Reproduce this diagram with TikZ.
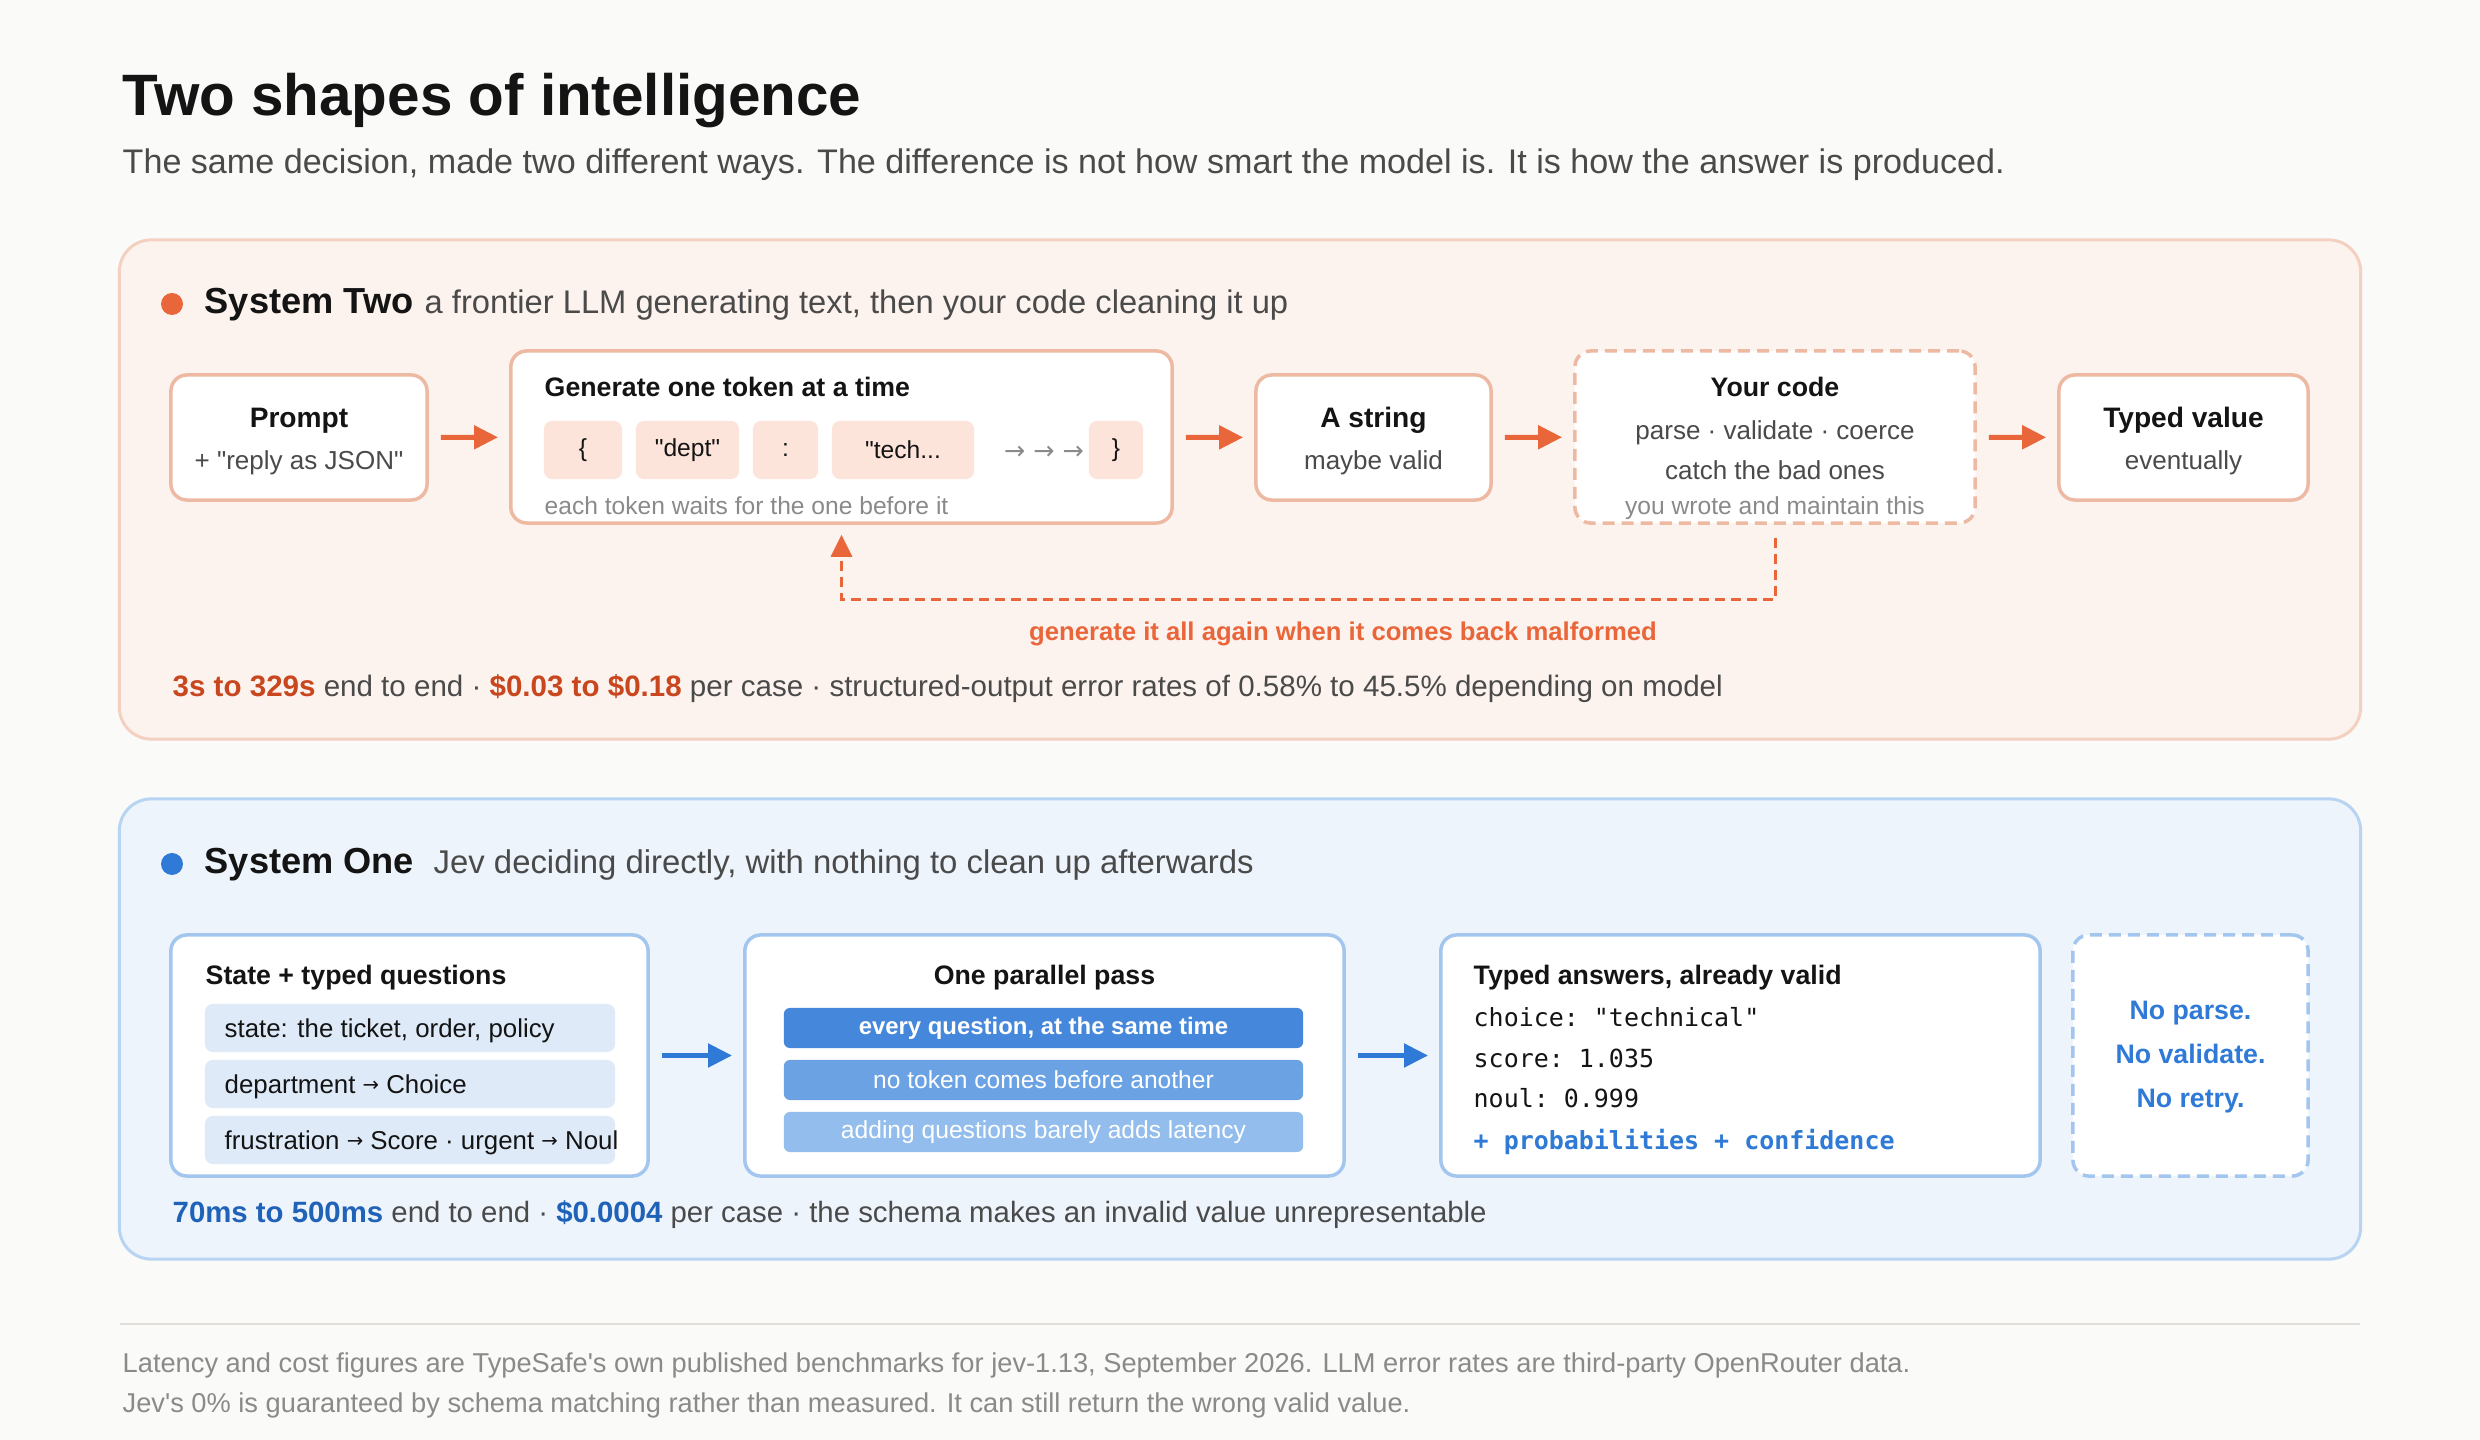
\documentclass[tikz,border=0pt]{standalone}
\usepackage{fontspec}
\setmainfont{Liberation Sans}[Ligatures=TeXOff]
\setmonofont{DejaVu Sans Mono}
\newfontfamily\symfont{DejaVu Sans}
\usetikzlibrary{arrows.meta}
\definecolor{bgc}{HTML}{FAFAF8}
\definecolor{ink}{HTML}{141414}
\definecolor{subc}{HTML}{4A4A4A}
\definecolor{mutedc}{HTML}{8A8A8A}
\definecolor{orfill}{HTML}{FDF3EE}
\definecolor{orline}{HTML}{F4D0C1}
\definecolor{orbox}{HTML}{EDB9A3}
\definecolor{oracc}{HTML}{E9663A}
\definecolor{ordark}{HTML}{C8471E}
\definecolor{chipor}{HTML}{FCE4DA}
\definecolor{blfill}{HTML}{EEF4FC}
\definecolor{blline}{HTML}{B8D4F3}
\definecolor{blbox}{HTML}{A3C6EF}
\definecolor{blacc}{HTML}{2F7AD6}
\definecolor{bldark}{HTML}{1F62B8}
\definecolor{chipbl}{HTML}{DEEAF8}
\definecolor{barA}{HTML}{4587DA}
\definecolor{barB}{HTML}{6BA2E3}
\definecolor{barC}{HTML}{93BDEC}
\definecolor{sepc}{HTML}{E2DEDA}
\newcommand\fz[1]{\fontsize{#1}{#1}\selectfont}
\newcommand\rarr{{\symfont\fz{5.6}\raisebox{0.15ex}{→}}}
\begin{document}
\begin{tikzpicture}[x=0.01cm,y=-0.01cm,
  txt/.style={inner sep=0pt, anchor=mid west},
  ctxt/.style={inner sep=0pt, anchor=mid},
  paneltwo/.style={draw=orline, fill=orfill, line width=0.3mm, rounded corners=3.2mm, inner sep=0pt},
  panelone/.style={draw=blline, fill=blfill, line width=0.3mm, rounded corners=3.2mm, inner sep=0pt},
  obox/.style={draw=orbox, fill=white, line width=0.35mm, rounded corners=1.6mm, inner sep=0pt},
  obDash/.style={obox, dash pattern=on 1.2mm off 0.7mm},
  bbox/.style={draw=blbox, fill=white, line width=0.35mm, rounded corners=1.6mm, inner sep=0pt},
  bbDash/.style={bbox, dash pattern=on 1.2mm off 0.7mm},
  ochip/.style={fill=chipor, rounded corners=0.8mm, inner sep=0pt, minimum height=0.58cm, font=\fz{7}, text=ink},
  bchip/.style={fill=chipbl, rounded corners=0.8mm, inner sep=0pt, minimum height=0.48cm, minimum width=4.1cm},
  bar/.style={rounded corners=0.6mm, inner sep=0pt, minimum height=0.40cm, minimum width=5.19cm, text=white, font=\fz{7}},
  oarr/.style={draw=oracc, line width=0.5mm, -{Triangle[length=2.4mm,width=2.3mm]}, shorten <=1.2mm, shorten >=1.1mm},
  barr/.style={draw=blacc, line width=0.5mm, -{Triangle[length=2.4mm,width=2.3mm]}, shorten <=1.2mm, shorten >=1.1mm},
  btitle/.style={ctxt, font=\bfseries\fz{8}, text=ink},
  bsub/.style={ctxt, font=\fz{7.4}, text=subc},
]
\fill[bgc] (0,0) rectangle (2480,1440);
\useasboundingbox (0,0) rectangle (2480,1440);

% title
\node[txt, font=\bfseries\fz{16.6}, text=ink] (title) at (122,106) {Two shapes of intelligence};
\node[txt, font=\fz{9.7}, text=subc] (subtitle) at (122,164) {The same decision, made two different ways. The difference is not how smart the model is. It is how the answer is produced.};

% ---------------- System Two
\node[paneltwo, minimum width=22.4cm, minimum height=4.99cm] (p2) at (1240,489.5) {};
\fill[oracc] (172,304) circle (11);
\node[txt, font=\bfseries\fz{10.3}, text=ink] (h2) at (204,304) {System Two};
\node[txt, font=\fz{9.3}, text=subc] (h2d) at (424,304) {a frontier LLM generating text, then your code cleaning it up};

\node[obox, minimum width=2.56cm, minimum height=1.25cm] (prompt) at (299,437.5) {};
\node[btitle] (promptT) at (299,418) {Prompt};
\node[bsub] (promptS) at (299,460) {+ "reply as JSON"};

\node[obox, minimum width=6.61cm, minimum height=1.72cm] (gen) at (841.5,437) {};
\node[txt, font=\bfseries\fz{7.6}, text=ink] (genT) at (544,387) {Generate one token at a time};
\node[ochip, minimum width=0.78cm] (c1) at (583,450) {\{};
\node[ochip, minimum width=1.03cm] (c2) at (687.5,450) {"dept"};
\node[ochip, minimum width=0.65cm] (c3) at (785.5,450) {:};
\node[ochip, minimum width=1.42cm] (c4) at (903,450) {"tech...};
\node[ctxt, font=\symfont\fz{7.2}, text=mutedc] (carr) at (1044,450) {→ → →};
\node[ochip, minimum width=0.54cm] (c5) at (1116,450) {\}};
\node[txt, font=\fz{7}, text=mutedc] (genS) at (544,505) {each token waits for the one before it};

\node[obox, minimum width=2.35cm, minimum height=1.25cm] (str) at (1373.5,437.5) {};
\node[btitle] (strT) at (1373.5,418) {A string};
\node[bsub] (strS) at (1373.5,460) {maybe valid};

\node[obDash, minimum width=4.0cm, minimum height=1.72cm] (code) at (1775,437) {};
\node[ctxt, font=\bfseries\fz{7.6}, text=ink] (codeT) at (1775,387) {Your code};
\node[bsub] (codeA) at (1775,430) {parse · validate · coerce};
\node[bsub] (codeB) at (1775,470) {catch the bad ones};
\node[ctxt, font=\fz{7}, text=mutedc] (codeC) at (1775,505) {you wrote and maintain this};

\node[obox, minimum width=2.49cm, minimum height=1.25cm] (typed) at (2183.5,437.5) {};
\node[btitle] (typedT) at (2183.5,418) {Typed value};
\node[bsub] (typedS) at (2183.5,460) {eventually};

\draw[oarr] (prompt) -- (gen);
\draw[oarr] (gen) -- (str);
\draw[oarr] (str) -- (code);
\draw[oarr] (code) -- (typed);

\coordinate (fbR) at (1775,600);
\coordinate (fbL) at (841.5,600);
\draw[draw=oracc, line width=0.3mm, dash pattern=on 1mm off 0.6mm, -{Triangle[length=2.2mm,width=2.1mm]}, shorten <=1.3mm, shorten >=1mm]
  (code.south) -- (fbR) -- (fbL) -- (gen.south);
\node[ctxt, font=\bfseries\fz{7.3}, text=oracc] (fbl) at (1343,631) {generate it all again when it comes back malformed};

\node[txt, font=\fz{8.4}, text=subc] (stats2) at (172,687) {{\bfseries\color{ordark}3s to 329s} end to end · {\bfseries\color{ordark}\$0.03 to \$0.18} per case · structured-output error rates of 0.58\% to 45.5\% depending on model};

% ---------------- System One
\node[panelone, minimum width=22.4cm, minimum height=4.6cm] (p1) at (1240,1029) {};
\fill[blacc] (172,864) circle (11);
\node[txt, font=\bfseries\fz{10.3}, text=ink] (h1) at (204,864) {System One};
\node[txt, font=\fz{9.35}, text=subc] (h1d) at (433,864) {Jev deciding directly, with nothing to clean up afterwards};

\node[bbox, minimum width=4.77cm, minimum height=2.41cm] (state) at (409.5,1055.5) {};
\node[txt, font=\bfseries\fz{7.6}, text=ink] (stateT) at (205,975) {State + typed questions};
\node[bchip] (s1) at (410,1028) {};
\node[bchip] (s2) at (410,1084) {};
\node[bchip] (s3) at (410,1140) {};
\node[txt, font=\fz{7.35}, text=ink] at (224,1028) {state: the ticket, order, policy};
\node[txt, font=\fz{7.35}, text=ink] at (224,1084) {department \rarr{} Choice};
\node[txt, font=\fz{7.35}, text=ink] at (224,1140) {frustration \rarr{} Score · urgent \rarr{} Noul};

\node[bbox, minimum width=5.99cm, minimum height=2.41cm] (pass) at (1044.5,1055.5) {};
\node[ctxt, font=\bfseries\fz{7.6}, text=ink] (passT) at (1044.5,975) {One parallel pass};
\node[bar, fill=barA, font=\bfseries\fz{6.8}] (b1) at (1043.5,1028) {every question, at the same time};
\node[bar, fill=barB] (b2) at (1043.5,1080) {no token comes before another};
\node[bar, fill=barC] (b3) at (1043.5,1132) {adding questions barely adds latency};

\node[bbox, minimum width=5.99cm, minimum height=2.41cm] (ans) at (1740.5,1055.5) {};
\node[txt, font=\bfseries\fz{7.6}, text=ink] (ansT) at (1473,975) {Typed answers, already valid};
\node[txt, font=\ttfamily\fz{7.1}, text=ink] (m1) at (1473,1017) {choice: "technical"};
\node[txt, font=\ttfamily\fz{7.1}, text=ink] (m2) at (1473,1058) {score: 1.035};
\node[txt, font=\ttfamily\fz{7.1}, text=ink] (m3) at (1473,1098) {noul: 0.999};
\node[txt, font=\ttfamily\bfseries\fz{7.1}, text=blacc] (m4) at (1473,1140) {+ probabilities + confidence};

\node[bbDash, minimum width=2.35cm, minimum height=2.41cm] (nope) at (2190.5,1055.5) {};
\node[ctxt, font=\bfseries\fz{7.6}, text=blacc] at (2190.5,1010) {No parse.};
\node[ctxt, font=\bfseries\fz{7.6}, text=blacc] at (2190.5,1054) {No validate.};
\node[ctxt, font=\bfseries\fz{7.6}, text=blacc] at (2190.5,1098) {No retry.};

\draw[barr] (state) -- (pass);
\draw[barr] (pass) -- (ans);

\node[txt, font=\fz{8.35}, text=subc] (stats1) at (172,1213) {{\bfseries\color{bldark}70ms to 500ms} end to end · {\bfseries\color{bldark}\$0.0004} per case · the schema makes an invalid value unrepresentable};

% footer
\draw[sepc, line width=0.25mm] (120,1324) -- (2360,1324);
\node[txt, font=\fz{7.75}, text=mutedc] (f1) at (122,1363) {Latency and cost figures are TypeSafe's own published benchmarks for jev-1.13, September 2026. LLM error rates are third-party OpenRouter data.};
\node[txt, font=\fz{7.75}, text=mutedc] (f2) at (122,1403) {Jev's 0\% is guaranteed by schema matching rather than measured. It can still return the wrong valid value.};
\end{tikzpicture}
\end{document}
